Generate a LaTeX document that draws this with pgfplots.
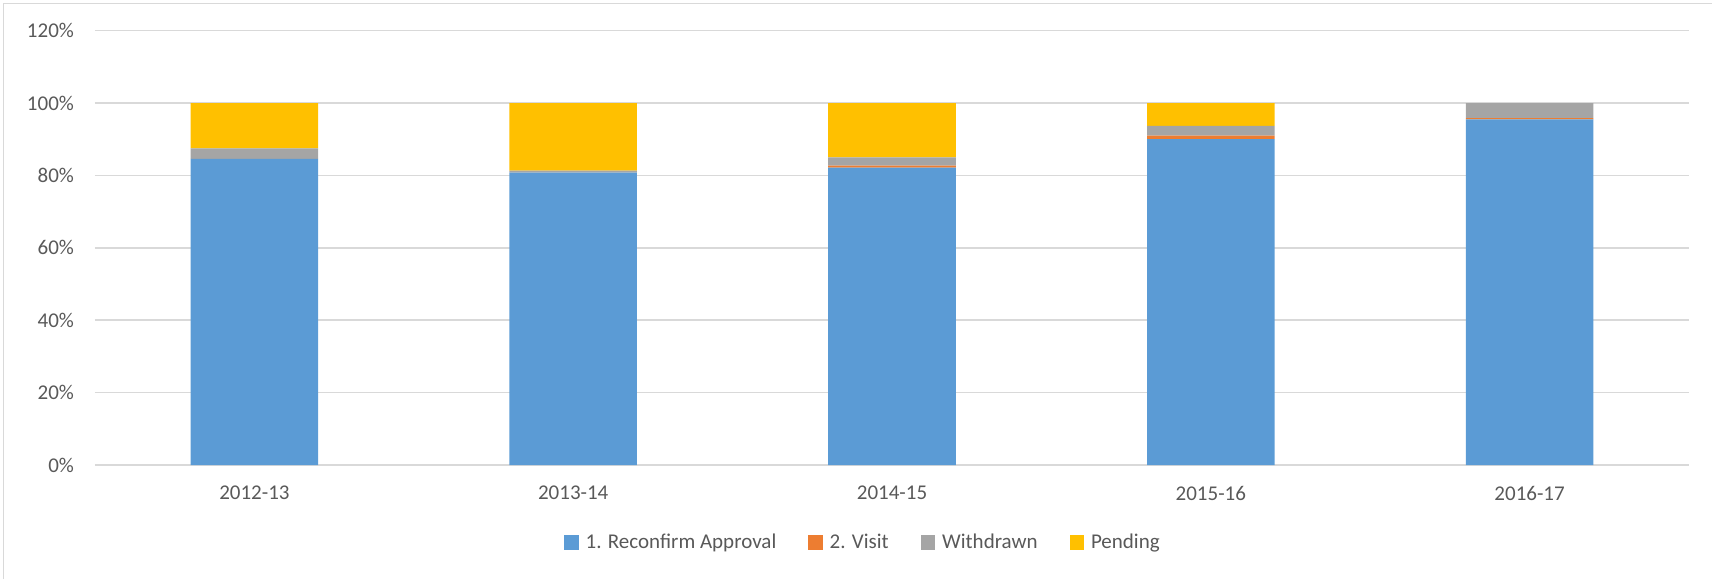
\documentclass[border=0pt]{standalone}
\usepackage{fontspec}
\setmainfont{Carlito}
\usepackage{pgfplots}
\pgfplotsset{compat=1.18}

\definecolor{cReconfirm}{HTML}{5B9BD5}
\definecolor{cVisit}{HTML}{ED7D31}
\definecolor{cWithdrawn}{HTML}{A5A5A5}
\definecolor{cPending}{HTML}{FFC000}
\definecolor{txt}{HTML}{595959}
\definecolor{gridc}{HTML}{D9D9D9}

\begin{document}
\begin{tikzpicture}[font=\fontsize{10.5}{12.5}\selectfont]
% picture bounds (1712x579 px at 0.5pt per px)
\path[use as bounding box] (-47.5pt,-57pt) rectangle (808.5pt,232.5pt);
\draw[gridc, line width=0.6pt] (-45.9pt,-57pt) -- (-45.9pt,230.8pt) -- (808.5pt,230.8pt);
\begin{axis}[
    scale only axis,
    width=797pt, height=217.2pt,
    ybar stacked,
    bar width=0.4,
    xmin=-0.5, xmax=4.5,
    ymin=0, ymax=120,
    xtick={0,1,2,3,4},
    xticklabels={2012-13,2013-14,2014-15,2015-16,2016-17},
    ytick={0,20,40,60,80,100,120},
    yticklabels={0\%,20\%,40\%,60\%,80\%,100\%,120\%},
    major tick length=0pt,
    axis line style={draw=none},
    ymajorgrids,
    grid style={gridc, line width=0.75pt},
    tick label style={text=txt},
    yticklabel style={xshift=-7pt},
    xticklabel style={yshift=-7pt},
    legend columns=4,
    legend style={draw=none, at={(0.5,0)}, anchor=center,
        yshift=-38.8pt, xshift=-14pt, text=txt,
        /tikz/every odd column/.append style={column sep=1.5pt},
        /tikz/every even column/.append style={column sep=14pt}},
    legend image code/.code={\fill (0pt,-3.6pt) rectangle (7.2pt,3.6pt);},
]
\addplot[fill=cReconfirm, draw=none] coordinates {(0,84.6) (1,80.8) (2,82.15) (3,90.0) (4,95.5)};
\addplot[fill=cVisit, draw=none] coordinates {(0,0) (1,0) (2,0.55) (3,1.0) (4,0.3)};
\addplot[fill=cWithdrawn, draw=none] coordinates {(0,2.9) (1,0.5) (2,2.3) (3,2.7) (4,4.2)};
\addplot[fill=cPending, draw=none] coordinates {(0,12.5) (1,18.7) (2,15.0) (3,6.3) (4,0)};
\legend{1. Reconfirm Approval, 2. Visit, Withdrawn, Pending}
\end{axis}
\end{tikzpicture}
\end{document}
